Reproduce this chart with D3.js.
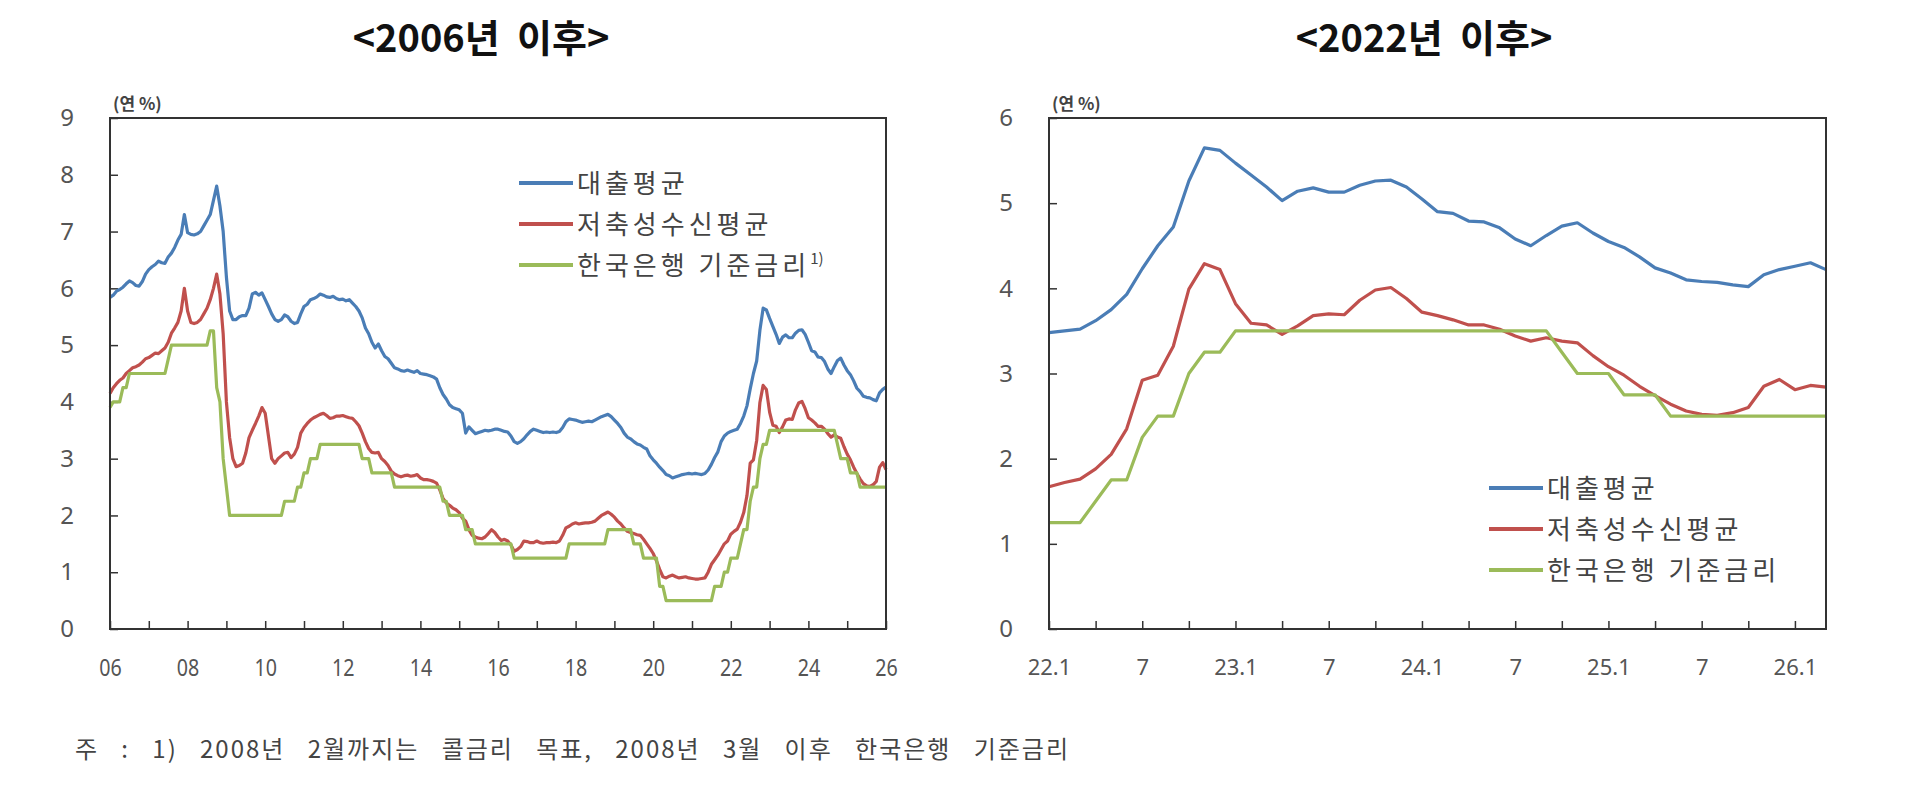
<!DOCTYPE html>
<html>
<head>
<meta charset="utf-8">
<script src="https://cdn.jsdelivr.net/npm/d3@7/dist/d3.min.js"></script>
<style>
body { margin: 0; background: #fff; }
text { font-family: "Noto Sans CJK KR", "Noto Sans", sans-serif; }
.tick line { stroke: #333; stroke-width: 1.5; }
.ylab text { font-family: "Noto Sans", "Open Sans", sans-serif; font-size: 24px; fill: #555; }
.xlab-left text { font-family: "Noto Sans", sans-serif; font-size: 24px; fill: #555; }
.xlab-right text { font-family: "Noto Sans", "Open Sans", sans-serif; font-size: 22px; fill: #555; }
</style>
</head>
<body>
<svg id="chart" width="1909" height="800"></svg>
<script>
var seriesNames = ["대출평균", "저축성수신평균", "한국은행 기준금리"];
var colors = ["#4a7db6", "#c0504d", "#9bbb59"];

// 2006.1 ~ 2021.12, monthly, % p.a.
var loanHist = [
  5.84, 5.88, 5.95, 5.98, 6.02, 6.08, 6.13, 6.10, 6.05, 6.04, 6.12, 6.25,
  6.33, 6.38, 6.42, 6.48, 6.45, 6.44, 6.55, 6.62, 6.72, 6.85, 6.95, 7.30,
  6.98, 6.95, 6.94, 6.96, 7.00, 7.10, 7.20, 7.30, 7.55, 7.80, 7.45, 7.00,
  6.20, 5.60, 5.45, 5.45, 5.50, 5.52, 5.52, 5.65, 5.90, 5.93, 5.88, 5.92,
  5.80, 5.68, 5.55, 5.45, 5.42, 5.45, 5.53, 5.50, 5.42, 5.38, 5.40, 5.55,
  5.68, 5.72, 5.80, 5.82, 5.85, 5.90, 5.88, 5.85, 5.84, 5.86, 5.82, 5.80,
  5.81, 5.78, 5.80, 5.74, 5.68, 5.60, 5.48, 5.30, 5.20, 5.05, 4.95, 5.02,
  4.90, 4.80, 4.76, 4.68, 4.60, 4.58, 4.55, 4.54, 4.56, 4.54, 4.52, 4.55,
  4.50, 4.49, 4.48, 4.46, 4.44, 4.40, 4.25, 4.13, 4.05, 3.95, 3.90, 3.88,
  3.86, 3.80, 3.45, 3.56, 3.50, 3.44, 3.46, 3.48, 3.50, 3.49, 3.50, 3.52,
  3.52, 3.50, 3.48, 3.47, 3.40, 3.30, 3.27, 3.30, 3.35, 3.42, 3.48, 3.52,
  3.50, 3.48, 3.46, 3.47, 3.46, 3.47, 3.46, 3.48, 3.55, 3.65, 3.70, 3.69,
  3.68, 3.66, 3.64, 3.65, 3.66, 3.65, 3.68, 3.71, 3.74, 3.76, 3.78, 3.74,
  3.68, 3.62, 3.55, 3.45, 3.38, 3.35, 3.30, 3.26, 3.24, 3.20, 3.17, 3.05,
  2.98, 2.92, 2.85, 2.79, 2.72, 2.70, 2.66, 2.68, 2.70, 2.72, 2.73, 2.74,
  2.73, 2.74, 2.73, 2.72, 2.74, 2.80, 2.90, 3.02, 3.12, 3.30, 3.40, 3.45
];
var depositHist = [
  4.15, 4.25, 4.32, 4.38, 4.42, 4.50, 4.55, 4.60, 4.62, 4.65, 4.70, 4.76,
  4.78, 4.82, 4.86, 4.85, 4.90, 4.95, 5.05, 5.21, 5.30, 5.40, 5.60, 6.00,
  5.60, 5.40, 5.38, 5.40, 5.45, 5.55, 5.65, 5.80, 6.00, 6.25, 5.90, 5.20,
  4.00, 3.37, 3.00, 2.86, 2.88, 2.92, 3.10, 3.37, 3.50, 3.62, 3.75, 3.90,
  3.80, 3.40, 3.00, 2.92, 3.00, 3.05, 3.10, 3.11, 3.02, 3.08, 3.20, 3.45,
  3.55, 3.62, 3.68, 3.72, 3.75, 3.78, 3.80, 3.76, 3.71, 3.72, 3.75, 3.75,
  3.76, 3.74, 3.72, 3.71, 3.65, 3.58, 3.45, 3.30, 3.18, 3.11, 3.10, 3.11,
  3.00, 2.95, 2.88, 2.78, 2.73, 2.70, 2.68, 2.70, 2.71, 2.69, 2.70, 2.72,
  2.66, 2.63, 2.63, 2.62, 2.60, 2.57, 2.45, 2.30, 2.22, 2.18, 2.13, 2.10,
  2.05, 1.95, 1.90, 1.75, 1.65, 1.62, 1.60, 1.59, 1.62, 1.68, 1.75, 1.70,
  1.62, 1.56, 1.58, 1.55, 1.48, 1.37, 1.40, 1.45, 1.55, 1.54, 1.52, 1.52,
  1.55, 1.52, 1.51, 1.52, 1.52, 1.53, 1.52, 1.55, 1.65, 1.78, 1.81, 1.85,
  1.87, 1.85, 1.86, 1.87, 1.87, 1.88, 1.90, 1.95, 2.00, 2.03, 2.06, 2.02,
  1.97, 1.90, 1.85, 1.78, 1.72, 1.70, 1.68, 1.66, 1.65, 1.58, 1.50, 1.42,
  1.33, 1.20, 1.05, 0.92, 0.90, 0.93, 0.95, 0.92, 0.90, 0.91, 0.92, 0.90,
  0.89, 0.88, 0.88, 0.89, 0.90, 1.00, 1.14, 1.22, 1.30, 1.40, 1.50, 1.55
];
var baseHist = [
  3.90, 4.00, 4.00, 4.00, 4.25, 4.25, 4.50, 4.50, 4.50, 4.50, 4.50, 4.50,
  4.50, 4.50, 4.50, 4.50, 4.50, 4.50, 4.75, 5.00, 5.00, 5.00, 5.00, 5.00,
  5.00, 5.00, 5.00, 5.00, 5.00, 5.00, 5.00, 5.25, 5.25, 4.25, 4.00, 3.00,
  2.50, 2.00, 2.00, 2.00, 2.00, 2.00, 2.00, 2.00, 2.00, 2.00, 2.00, 2.00,
  2.00, 2.00, 2.00, 2.00, 2.00, 2.00, 2.25, 2.25, 2.25, 2.25, 2.50, 2.50,
  2.75, 2.75, 3.00, 3.00, 3.00, 3.25, 3.25, 3.25, 3.25, 3.25, 3.25, 3.25,
  3.25, 3.25, 3.25, 3.25, 3.25, 3.25, 3.00, 3.00, 3.00, 2.75, 2.75, 2.75,
  2.75, 2.75, 2.75, 2.75, 2.50, 2.50, 2.50, 2.50, 2.50, 2.50, 2.50, 2.50,
  2.50, 2.50, 2.50, 2.50, 2.50, 2.50, 2.50, 2.25, 2.25, 2.00, 2.00, 2.00,
  2.00, 2.00, 1.75, 1.75, 1.75, 1.50, 1.50, 1.50, 1.50, 1.50, 1.50, 1.50,
  1.50, 1.50, 1.50, 1.50, 1.50, 1.25, 1.25, 1.25, 1.25, 1.25, 1.25, 1.25,
  1.25, 1.25, 1.25, 1.25, 1.25, 1.25, 1.25, 1.25, 1.25, 1.25, 1.50, 1.50,
  1.50, 1.50, 1.50, 1.50, 1.50, 1.50, 1.50, 1.50, 1.50, 1.50, 1.75, 1.75,
  1.75, 1.75, 1.75, 1.75, 1.75, 1.75, 1.50, 1.50, 1.50, 1.25, 1.25, 1.25,
  1.25, 1.25, 0.75, 0.75, 0.50, 0.50, 0.50, 0.50, 0.50, 0.50, 0.50, 0.50,
  0.50, 0.50, 0.50, 0.50, 0.50, 0.50, 0.50, 0.75, 0.75, 0.75, 1.00, 1.00
];

// 2022.1 ~ 2026.3, monthly
var loanRecent = [
  3.48, 3.50, 3.52, 3.62, 3.75, 3.93, 4.23, 4.50, 4.72, 5.26, 5.65, 5.62,
  5.47, 5.33, 5.19, 5.03, 5.14, 5.18, 5.13, 5.13, 5.21, 5.26, 5.27, 5.19,
  5.05, 4.90, 4.88, 4.79, 4.78, 4.71, 4.58, 4.50, 4.62, 4.73, 4.77, 4.65,
  4.55, 4.48, 4.37, 4.24, 4.18, 4.10, 4.08, 4.07, 4.04, 4.02, 4.16, 4.22,
  4.26, 4.30, 4.22
];
var depositRecent = [
  1.67, 1.72, 1.76, 1.88, 2.05, 2.35, 2.92, 2.98, 3.32, 3.99, 4.29, 4.22,
  3.82, 3.59, 3.57, 3.46, 3.56, 3.68, 3.70, 3.69, 3.86, 3.98, 4.01, 3.88,
  3.72, 3.68, 3.63, 3.57, 3.57, 3.52, 3.44, 3.38, 3.42, 3.38, 3.36, 3.21,
  3.08, 2.98, 2.85, 2.74, 2.64, 2.56, 2.52, 2.51, 2.54, 2.60, 2.85, 2.93,
  2.81, 2.86, 2.84
];
var baseRecent = [
  1.25, 1.25, 1.25, 1.50, 1.75, 1.75, 2.25, 2.50, 2.50, 3.00, 3.25, 3.25,
  3.50, 3.50, 3.50, 3.50, 3.50, 3.50, 3.50, 3.50, 3.50, 3.50, 3.50, 3.50,
  3.50, 3.50, 3.50, 3.50, 3.50, 3.50, 3.50, 3.50, 3.50, 3.25, 3.00, 3.00,
  3.00, 2.75, 2.75, 2.75, 2.50, 2.50, 2.50, 2.50, 2.50, 2.50, 2.50, 2.50,
  2.50, 2.50, 2.50
];

var yTicksLeft = [0, 1, 2, 3, 4, 5, 6, 7, 8, 9];
var yTicksRight = [0, 1, 2, 3, 4, 5, 6];
var xLabelsLeft = ["06", "08", "10", "12", "14", "16", "18", "20", "22", "24", "26"];
var xLabelsRight = ["22.1", "7", "23.1", "7", "24.1", "7", "25.1", "7", "26.1"];

var svg = d3.select("#chart");

function drawPanel(p) {
    var x = d3.scaleLinear().domain([0, p.xmax]).range([p.left, p.right]);
    var y = d3.scaleLinear().domain([0, p.ymax]).range([p.bottom, p.top]);
    var g = svg.append("g");

    // y axis, ticks pointing inward
    g.append("g")
        .attr("class", "ylab")
        .attr("transform", `translate(${p.left},0)`)
        .call(d3.axisLeft(y).tickValues(p.yTicks).tickSize(-8).tickPadding(36)
            .tickFormat(d => String(d)))
        .call(a => a.select(".domain").remove());

    var xTicks = d3.range(0, p.xmax + 1, p.tickStep);
    var xa = g.append("g")
        .attr("class", p.xClass)
        .attr("transform", `translate(0,${p.bottom})`)
        .call(d3.axisBottom(x).tickValues(xTicks).tickSize(-8).tickPadding(30)
            .tickFormat((d, i) => i % 2 === 0 ? p.xLabels[i / 2] : ""))
        .call(a => a.select(".domain").remove());
    if (p.narrow) xa.selectAll(".tick text").attr("transform", "scale(0.82,1)");

    var line = d3.line()
        .x((d, i) => x(i))
        .y(d => y(d));

    p.series.forEach(function(s, k) {
        g.append("path")
            .datum(s)
            .attr("fill", "none")
            .attr("stroke", colors[k])
            .attr("stroke-width", 3.2)
            .attr("stroke-linejoin", "round")
            .attr("d", line);
    });

    // frame
    g.append("rect")
        .attr("x", p.left).attr("y", p.top)
        .attr("width", p.right - p.left).attr("height", p.bottom - p.top)
        .attr("fill", "none").attr("stroke", "#333").attr("stroke-width", 2);

    g.append("text")
        .attr("x", p.left + 3).attr("y", p.top - 8)
        .attr("font-size", 17).attr("font-weight", "bold").attr("fill", "#444")
        .text("(연 %)");

    g.append("text")
        .attr("x", p.titleX).attr("y", 52)
        .attr("text-anchor", "middle")
        .attr("font-size", 38).attr("font-weight", "bold").attr("fill", "#111")
        .style("white-space", "pre")
        .text(p.title);

    var leg = g.append("g").attr("transform", `translate(${p.legX},${p.legY})`);
    seriesNames.forEach(function(name, k) {
        var row = leg.append("g").attr("transform", `translate(0,${k * 41})`);
        row.append("line")
            .attr("x1", 0).attr("x2", 54).attr("y1", 0).attr("y2", 0)
            .attr("stroke", colors[k]).attr("stroke-width", 4);
        var t = row.append("text")
            .attr("x", 58).attr("y", 10)
            .attr("font-size", 26).attr("fill", "#444")
            .attr("letter-spacing", 4)
            .style("white-space", "pre")
            .text(name);
        if (k === 2 && p.footMark) {
            t.append("tspan").attr("dy", -11).attr("font-size", 15)
                .attr("letter-spacing", 0).text("1)");
        }
    });
}

drawPanel({
    left: 110, right: 886, top: 118, bottom: 629,
    xmax: 240, ymax: 9, tickStep: 12,
    yTicks: yTicksLeft, xLabels: xLabelsLeft, xClass: "xlab-left", narrow: true,
    series: [loanHist.concat(loanRecent.slice(0, 49)),
             depositHist.concat(depositRecent.slice(0, 49)),
             baseHist.concat(baseRecent.slice(0, 49))],
    title: "<2006년  이후>", titleX: 481,
    legX: 519, legY: 183, footMark: true
});

drawPanel({
    left: 1049, right: 1826, top: 118, bottom: 629,
    xmax: 50, ymax: 6, tickStep: 3,
    yTicks: yTicksRight, xLabels: xLabelsRight, xClass: "xlab-right", narrow: false,
    series: [loanRecent, depositRecent, baseRecent],
    title: "<2022년  이후>", titleX: 1424,
    legX: 1489, legY: 488, footMark: false
});

// footnote: spaced letters, word gaps fill the rest of the width
var foot = svg.append("text")
    .attr("x", 75).attr("y", 758)
    .attr("font-size", 24).attr("fill", "#444")
    .attr("letter-spacing", 2)
    .style("white-space", "pre")
    .text("주 : 1) 2008년 2월까지는 콜금리 목표, 2008년 3월 이후 한국은행 기준금리");
var natural = foot.node().getComputedTextLength();
foot.attr("word-spacing", Math.max(0, (995 - natural) / 11));
</script>
</body>
</html>
